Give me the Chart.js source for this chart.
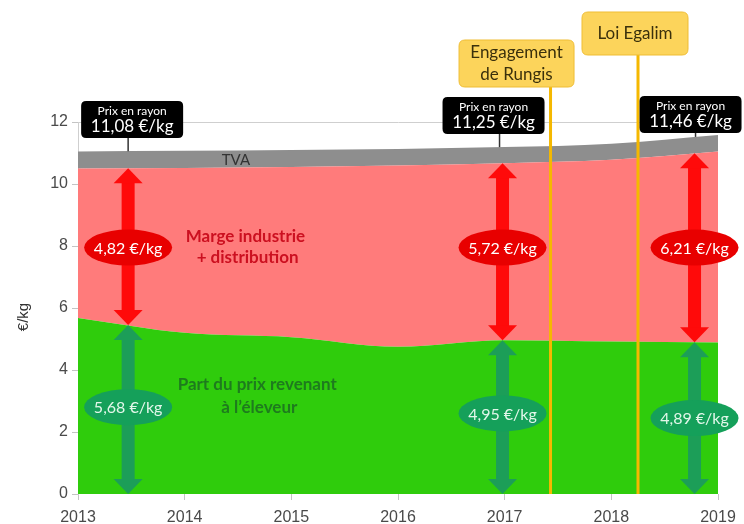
<!DOCTYPE html>
<html><head><meta charset="utf-8">
<script src="https://cdn.jsdelivr.net/npm/chart.js@4/dist/chart.umd.min.js"></script>
<style>html,body{margin:0;padding:0;background:#fff}#wrap{width:744px;height:524px}</style>
</head><body><div id="wrap"><canvas id="c" width="744" height="524"></canvas></div>
<script>
// ---- data ----
const years = [2013, 2014, 2015, 2016, 2017, 2018, 2019];
const farmerShare = [5.68, 5.20, 5.06, 4.75, 4.96, 4.92, 4.89];
const industryRetailMargin = [4.82, 5.32, 5.49, 5.85, 5.71, 5.86, 6.16];
const vat = [0.55, 0.55, 0.55, 0.53, 0.52, 0.52, 0.53];
const yTicks = [0, 2, 4, 6, 8, 10, 12];
const xTicks = [2013, 2014, 2015, 2016, 2017, 2018, 2019];

const calloutYears = [2013.47, 2016.98, 2018.78];
const shelfPriceLabels = ['11,08 €/kg', '11,25 €/kg', '11,46 €/kg'];
const marginLabels = ['4,82 €/kg', '5,72 €/kg', '6,21 €/kg'];
const farmerLabels = ['5,68 €/kg', '4,95 €/kg', '4,89 €/kg'];
const eventYears = [2017.43, 2018.25];
const eventLabels = [['Engagement', 'de Rungis'], ['Loi Egalim']];

// ---- styling / layout (not data) ----
const COL = {
  green: '#2fcc0c', pink: '#ff7b7b', grey: '#8e8e8e',
  redArrow: '#ff0a0a', redEll: '#e80000',
  greenArrow: '#1c9e58', greenEll: '#15a05a', greenEllText: '#e2f7ea',
  yellowLine: '#f5b800', yellowFill: '#fcd45b', yellowBorder: '#efbd35', yellowText: '#3a300c',
  margeText: '#cc1020', partText: '#1e7b1e'
};
const UI = "Lato, 'Open Sans', sans-serif";
const AX = "'Liberation Sans', Arial, sans-serif";
const priceBox = { dx: [4, -9, -4], top: [-21, -25, -26], w: 102, h: 37, connDx: [0, -3, 1] };
const redEllY = [7.95, 7.95, 7.95];
const greenEllY = [2.8, 2.6, 2.45];
const ellDx = [0, 0, 0];
const eventBox = [{ dx: -34, top: 40, w: 115, h: 47 }, { dx: -3, top: 12, w: 106, h: 43 }];

const cumulative = (arrs) => years.map((_, i) => arrs.reduce((s, a) => s + a[i], 0));
const topGreen = farmerShare;
const topRed = cumulative([farmerShare, industryRetailMargin]);
const topAll = cumulative([farmerShare, industryRetailMargin, vat]);
function interp(arr, t) {
  for (let i = 0; i < years.length - 1; i++) {
    if (t >= years[i] && t <= years[i + 1]) {
      const f = (t - years[i]) / (years[i + 1] - years[i]);
      return arr[i] + f * (arr[i + 1] - arr[i]);
    }
  }
  return arr[arr.length - 1];
}

function roundRect(ctx, x, y, w, h, r) {
  ctx.beginPath();
  ctx.moveTo(x + r, y);
  ctx.lineTo(x + w - r, y); ctx.quadraticCurveTo(x + w, y, x + w, y + r);
  ctx.lineTo(x + w, y + h - r); ctx.quadraticCurveTo(x + w, y + h, x + w - r, y + h);
  ctx.lineTo(x + r, y + h); ctx.quadraticCurveTo(x, y + h, x, y + h - r);
  ctx.lineTo(x, y + r); ctx.quadraticCurveTo(x, y, x + r, y);
  ctx.closePath();
}
function dblArrow(ctx, x, yTop, yBot, color) {
  const sw = 13, hw = 29, hl = 15;
  ctx.fillStyle = color;
  ctx.fillRect(x - sw / 2, yTop + hl - 1, sw, (yBot - yTop) - 2 * hl + 2);
  ctx.beginPath();
  ctx.moveTo(x, yTop); ctx.lineTo(x + hw / 2, yTop + hl); ctx.lineTo(x - hw / 2, yTop + hl); ctx.closePath(); ctx.fill();
  ctx.beginPath();
  ctx.moveTo(x, yBot); ctx.lineTo(x + hw / 2, yBot - hl); ctx.lineTo(x - hw / 2, yBot - hl); ctx.closePath(); ctx.fill();
}
function ellipse(ctx, cx, cy, rx, ry, fill, text, tcol) {
  ctx.beginPath(); ctx.ellipse(cx, cy, rx, ry, 0, 0, Math.PI * 2); ctx.fillStyle = fill; ctx.fill();
  ctx.fillStyle = tcol; ctx.font = `16px ${UI}`; ctx.textAlign = 'center'; ctx.textBaseline = 'middle';
  ctx.fillText(text, cx, cy + 1);
}

const annot = {
  id: 'annot',
  afterDatasetsDraw(chart) {
    const { ctx, chartArea: a, scales: { x, y } } = chart;
    ctx.save();
    // event lines + boxes
    eventYears.forEach((ey, i) => {
      const px = x.getPixelForValue(ey);
      const b = eventBox[i];
      ctx.strokeStyle = COL.yellowLine; ctx.lineWidth = 3;
      ctx.beginPath(); ctx.moveTo(px, a.bottom); ctx.lineTo(px, b.top + b.h); ctx.stroke();
      const bx = px + b.dx - b.w / 2;
      roundRect(ctx, bx, b.top, b.w, b.h, 6);
      ctx.fillStyle = COL.yellowFill; ctx.fill();
      ctx.strokeStyle = COL.yellowBorder; ctx.lineWidth = 1; ctx.stroke();
      ctx.fillStyle = COL.yellowText; ctx.font = `17px ${UI}`; ctx.textAlign = 'center'; ctx.textBaseline = 'middle';
      const lines = eventLabels[i];
      const lh = 22, cy = b.top + b.h / 2;
      lines.forEach((t, k) => ctx.fillText(t, bx + b.w / 2, cy + (k - (lines.length - 1) / 2) * lh));
    });
    // text labels in areas
    ctx.textAlign = 'center'; ctx.textBaseline = 'middle';
    ctx.fillStyle = '#333'; ctx.font = `15px ${UI}`;
    ctx.fillText('TVA', x.getPixelForValue(2014.48), y.getPixelForValue((interp(topRed, 2014.48) + interp(topAll, 2014.48)) / 2) + 1);
    ctx.fillStyle = COL.margeText; ctx.font = `bold 17px ${UI}`;
    ctx.fillText('Marge industrie', x.getPixelForValue(2014.57), y.getPixelForValue(8.3));
    ctx.fillText('+ distribution', x.getPixelForValue(2014.59), y.getPixelForValue(7.62));
    ctx.fillStyle = COL.partText;
    ctx.fillText('Part du prix revenant', x.getPixelForValue(2014.68), y.getPixelForValue(3.52));
    ctx.fillText('à l\u2019éleveur', x.getPixelForValue(2014.70), y.getPixelForValue(2.8));
    // callouts
    calloutYears.forEach((cy, i) => {
      const px = x.getPixelForValue(cy);
      const gTop = y.getPixelForValue(interp(topGreen, cy));
      const rTop = y.getPixelForValue(interp(topRed, cy));
      const aTop = y.getPixelForValue(interp(topAll, cy));
      dblArrow(ctx, px, rTop, gTop, COL.redArrow);
      dblArrow(ctx, px, gTop, y.getPixelForValue(0), COL.greenArrow);
      ellipse(ctx, px + ellDx[i], y.getPixelForValue(redEllY[i]), 44, 18, COL.redEll, marginLabels[i], '#fff');
      ellipse(ctx, px + ellDx[i], y.getPixelForValue(greenEllY[i]), 44, 18, COL.greenEll, farmerLabels[i], COL.greenEllText);
      // price box
      const bTop = a.top + priceBox.top[i];
      const bx = px + priceBox.dx[i] - priceBox.w / 2;
      ctx.strokeStyle = '#333'; ctx.lineWidth = 1.5;
      ctx.beginPath(); ctx.moveTo(px + priceBox.connDx[i], bTop + priceBox.h); ctx.lineTo(px + priceBox.connDx[i], aTop); ctx.stroke();
      roundRect(ctx, bx, bTop, priceBox.w, priceBox.h, 5);
      ctx.fillStyle = '#000'; ctx.fill();
      ctx.fillStyle = '#fff'; ctx.textAlign = 'center'; ctx.textBaseline = 'middle';
      ctx.font = `12px ${UI}`; ctx.fillText('Prix en rayon', bx + priceBox.w / 2, bTop + 10);
      ctx.font = `17px ${UI}`; ctx.fillText(shelfPriceLabels[i], bx + priceBox.w / 2, bTop + 26);
    });
    // y-axis title
    ctx.save();
    ctx.translate(24, 317); ctx.rotate(-Math.PI / 2);
    ctx.fillStyle = '#333'; ctx.font = `15px ${AX}`; ctx.textAlign = 'center'; ctx.textBaseline = 'middle';
    ctx.fillText('€/kg', 0, 0);
    ctx.restore();
    ctx.restore();
  }
};

const pts = (arr) => years.map((yr, i) => ({ x: yr, y: arr[i] }));
const common = { borderWidth: 0, pointRadius: 0, pointHoverRadius: 0, cubicInterpolationMode: 'monotone' };

new Chart(document.getElementById('c').getContext('2d'), {
  type: 'line',
  data: {
    datasets: [
      { ...common, label: "Part du prix revenant à l'éleveur", data: pts(farmerShare), fill: 'origin', backgroundColor: COL.green, borderColor: COL.green },
      { ...common, label: 'Marge industrie + distribution', data: pts(industryRetailMargin), fill: '-1', backgroundColor: COL.pink, borderColor: COL.pink },
      { ...common, label: 'TVA', data: pts(vat), fill: '-1', backgroundColor: COL.grey, borderColor: COL.grey }
    ]
  },
  options: {
    responsive: false, animation: false, devicePixelRatio: 1,
    layout: { padding: { top: 122, right: 26, left: 0, bottom: 0 } },
    plugins: { legend: { display: false }, tooltip: { enabled: false } },
    scales: {
      x: {
        type: 'linear', min: 2013, max: 2019,
        afterBuildTicks: s => { s.ticks = xTicks.map(v => ({ value: v })); },
        ticks: { callback: v => String(v), font: { family: AX, size: 16 }, color: '#4a4a4a', padding: 8, maxRotation: 0, autoSkip: false },
        grid: { drawOnChartArea: false, tickLength: 6, color: '#c4c4c4' },
        border: { display: false },
        afterFit: s => { s.height = 30; }
      },
      y: {
        stacked: true, min: 0, max: 12,
        afterBuildTicks: s => { s.ticks = yTicks.map(v => ({ value: v })); },
        ticks: { font: { family: AX, size: 16 }, color: '#4a4a4a', padding: 4 },
        grid: { color: c => (c.tick && c.tick.value === 12) ? '#cfcfcf' : 'rgba(0,0,0,0)', tickColor: '#c4c4c4', tickLength: 6 },
        border: { display: true, color: '#cfcfcf' },
        afterFit: s => { s.width = 78; }
      }
    }
  },
  plugins: [annot]
});
</script></body></html>
